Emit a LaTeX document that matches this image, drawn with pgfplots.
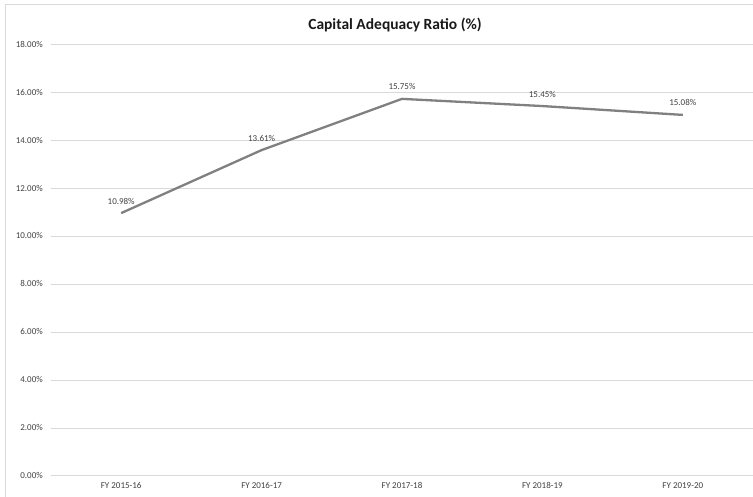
\documentclass[border=0pt]{standalone}
\usepackage{fontspec}
\setmainfont{Carlito}
\usepackage{pgfplots}
\pgfplotsset{compat=1.18}

\definecolor{gridgray}{HTML}{D9D9D9}
\definecolor{linegray}{HTML}{808080}
\definecolor{labelgray}{HTML}{404040}

\begin{document}
\begin{tikzpicture}[x=1pt,y=1pt]
  % page extent and chart frame
  \useasboundingbox (0,0) rectangle (753,497);
  \draw[gridgray, line width=1pt] (5,-20) -- (5,492) -- (780,492);

  % title
  \node[anchor=base, font=\fontsize{15.5}{17}\selectfont\bfseries, text=black!90]
    at (395,467) {Capital Adequacy Ratio (\%)};

  \begin{axis}[
      at={(51pt,21pt)}, anchor=south west,
      scale only axis, width=702pt, height=431pt,
      xmin=-0.5, xmax=4.5, ymin=0, ymax=18,
      xtick={0,1,2,3,4},
      xticklabels={FY 2015-16, FY 2016-17, FY 2017-18, FY 2018-19, FY 2019-20},
      ytick={0,2,4,6,8,10,12,14,16,18},
      yticklabels={0.00\%,2.00\%,4.00\%,6.00\%,8.00\%,10.00\%,12.00\%,14.00\%,16.00\%,18.00\%},
      major tick length=0pt,
      axis line style={draw=none},
      ymajorgrids,
      grid style={gridgray, line width=1pt},
      tick label style={font=\fontsize{9}{10}\selectfont, text=labelgray},
      xticklabel style={anchor=base, yshift=-13pt},
      yticklabel style={anchor=mid east, inner sep=0pt, xshift=-8pt},
      /pgf/number format/assume math mode=true,
      clip=false,
      nodes near coords={\pgfmathprintnumber[fixed, fixed zerofill, precision=2]{\pgfplotspointmeta}\%},
      every node near coord/.append style={anchor=base, yshift=9pt, inner sep=0pt,
        font=\fontsize{9}{10}\selectfont, text=labelgray},
    ]
    \addplot[linegray, line width=2.3pt, line join=round, mark=none]
      coordinates {(0,10.98) (1,13.61) (2,15.75) (3,15.45) (4,15.08)};
  \end{axis}
\end{tikzpicture}
\end{document}
